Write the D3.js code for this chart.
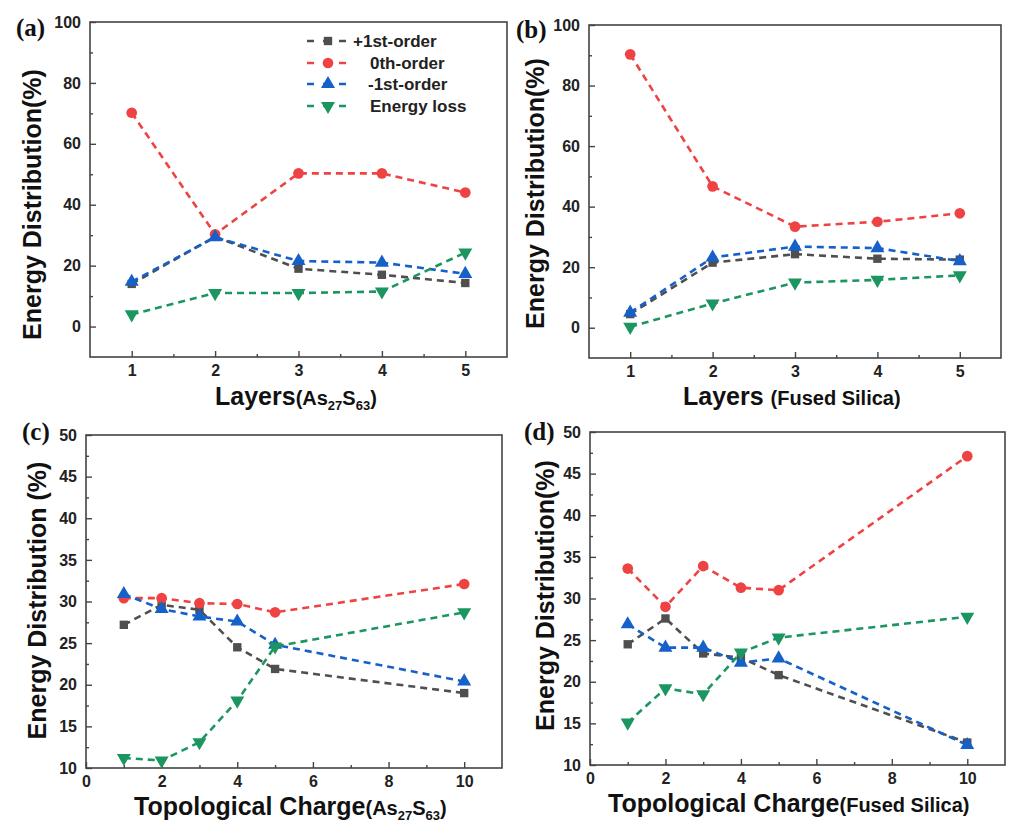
<!DOCTYPE html>
<html>
<head>
<meta charset="utf-8">
<script src="https://cdn.jsdelivr.net/npm/d3@7"></script>
<style>
  body { margin: 0; background: #fff; }
  svg { display: block; }
  .tick-label { font-family: "Liberation Sans", Arial, sans-serif; font-weight: bold; font-size: 16px; fill: #222; }
  .ax-title { font-family: "Liberation Sans", Arial, sans-serif; font-weight: bold; fill: #111; }
  .panel-tag { font-family: "Liberation Serif", "Times New Roman", serif; font-weight: bold; font-size: 25px; fill: #111; }
  .legend-text { font-family: "Liberation Sans", Arial, sans-serif; font-weight: bold; font-size: 17px; fill: #222; }
</style>
</head>
<body>
<svg id="chart" width="1024" height="837"></svg>
<script>
// x categories
const layers = [1, 2, 3, 4, 5];
const charges = [1, 2, 3, 4, 5, 10];

const seriesNames = ["+1st-order", "0th-order", "-1st-order", "Energy loss"];
const seriesColors = ["#4f4f4f", "#ef4343", "#1660c9", "#1b9660"];

// (a) layers, As27S63
const aPlus1 = [14, 29.5, 19, 17, 14.3];
const aZero = [70.2, 30.3, 50.3, 50.3, 44];
const aMinus1 = [14.7, 29.3, 21.5, 21, 17.3];
const aLoss = [4, 11, 11, 11.5, 24.3];

// (b) layers, fused silica
const bPlus1 = [4.5, 21.5, 24.3, 22.8, 22.5];
const bZero = [90.3, 46.7, 33.4, 35, 37.8];
const bMinus1 = [5, 23.2, 26.8, 26.3, 22];
const bLoss = [0.3, 8, 14.9, 15.8, 17.3];

// (c) topological charge, As27S63
const cPlus1 = [27.2, 29.6, 29, 24.5, 21.9, 19];
const cZero = [30.4, 30.4, 29.8, 29.7, 28.7, 32.1];
const cMinus1 = [30.9, 29.1, 28.2, 27.6, 24.8, 20.4];
const cLoss = [11.2, 10.9, 13.1, 18.1, 24.6, 28.7];

// (d) topological charge, fused silica
const dPlus1 = [24.5, 27.6, 23.4, 22.9, 20.8, 12.7];
const dZero = [33.6, 29, 33.9, 31.3, 31, 47.1];
const dMinus1 = [26.9, 24.1, 24.1, 22.3, 22.8, 12.4];
const dLoss = [15.1, 19.2, 18.5, 23.5, 25.3, 27.8];

// axis ticks
const layerTicks = [1, 2, 3, 4, 5];
const layerMinor = [1.5, 2.5, 3.5, 4.5];
const layerYTicks = [0, 20, 40, 60, 80, 100];
const layerYMinor = [10, 30, 50, 70, 90];
const chargeTicks = [0, 2, 4, 6, 8, 10];
const chargeMinor = [1, 3, 5, 7, 9];
const chargeYTicks = [10, 15, 20, 25, 30, 35, 40, 45, 50];
const chargeYMinor = [12.5, 17.5, 22.5, 27.5, 32.5, 37.5, 42.5, 47.5];

const svg = d3.select("#chart");

const symbols = [
  d3.symbol().type(d3.symbolSquare).size(70),
  d3.symbol().type(d3.symbolCircle).size(90),
  d3.symbol().type(d3.symbolTriangle).size(85),
  d3.symbol().type(d3.symbolTriangle).size(85)
];
const symbolRotate = [0, 0, 0, 180];

function drawPanel(cfg) {
  const g = svg.append("g");
  const x = d3.scaleLinear().domain(cfg.xDomain).range([cfg.left, cfg.right]);
  const y = d3.scaleLinear().domain(cfg.yDomain).range([cfg.bottom, cfg.top]);

  // frame
  g.append("rect")
    .attr("x", cfg.left).attr("y", cfg.top)
    .attr("width", cfg.right - cfg.left).attr("height", cfg.bottom - cfg.top)
    .attr("fill", "none").attr("stroke", "#444").attr("stroke-width", 1.6);

  // axes with inward ticks
  const fmt = d3.format("d");
  const xAxis = d3.axisBottom(x).tickValues(cfg.xTicks).tickFormat(fmt).tickSizeInner(-6).tickSizeOuter(0).tickPadding(8);
  const xAxisMinor = d3.axisBottom(x).tickValues(cfg.xMinor).tickSizeInner(-3).tickSizeOuter(0).tickFormat("");
  const yAxis = d3.axisLeft(y).tickValues(cfg.yTicks).tickFormat(fmt).tickSizeInner(-6).tickSizeOuter(0).tickPadding(9);
  const yAxisMinor = d3.axisLeft(y).tickValues(cfg.yMinor).tickSizeInner(-3).tickSizeOuter(0).tickFormat("");

  [[xAxis, "x"], [xAxisMinor, "x"], [yAxis, "y"], [yAxisMinor, "y"]].forEach(([ax, k]) => {
    const a = g.append("g")
      .attr("transform", k === "x" ? `translate(0,${cfg.bottom})` : `translate(${cfg.left},0)`)
      .call(ax);
    a.select(".domain").remove();
    a.selectAll(".tick line").attr("stroke", "#444").attr("stroke-width", 1.4);
    a.selectAll(".tick text").attr("class", "tick-label").attr("font-size", null).attr("font-family", null);
  });

  // series
  cfg.series.forEach((vals, si) => {
    const pts = cfg.xs.map((xv, i) => [xv, vals[i]]);
    g.append("path")
      .datum(pts)
      .attr("d", d3.line().x(d => x(d[0])).y(d => y(d[1])))
      .attr("fill", "none")
      .attr("stroke", seriesColors[si])
      .attr("stroke-width", 2.6)
      .attr("stroke-dasharray", "7,5");
    g.selectAll(null)
      .data(pts)
      .enter()
      .append("path")
      .attr("d", symbols[si])
      .attr("transform", d => `translate(${x(d[0])},${y(d[1])}) rotate(${symbolRotate[si]})`)
      .attr("fill", seriesColors[si]);
  });

  // y title
  g.append("text")
    .attr("class", "ax-title")
    .attr("font-size", 25)
    .attr("text-anchor", "middle")
    .attr("transform", `translate(${cfg.yTitleX},${(cfg.top + cfg.bottom) / 2 + cfg.yTitleDy}) rotate(-90)`)
    .text(cfg.yTitle);

  // x title with small parenthetical
  const xt = g.append("text")
    .attr("class", "ax-title")
    .attr("x", cfg.xTitleX)
    .attr("y", cfg.xTitleY)
    .attr("font-size", 25);
  cfg.xTitle.forEach(part => {
    const ts = xt.append("tspan").text(part.t);
    if (part.size) ts.attr("font-size", part.size);
    if (part.dy) ts.attr("dy", part.dy);
  });

  // panel tag
  g.append("text")
    .attr("class", "panel-tag")
    .attr("x", cfg.tagX).attr("y", cfg.tagY)
    .text(cfg.tag);

  return { x, y, g };
}

const as2763 = [
  { t: "(As", size: 20 },
  { t: "27", size: 13, dy: 5 },
  { t: "S", size: 20, dy: -5 },
  { t: "63", size: 13, dy: 5 },
  { t: ")", size: 20, dy: -5 }
];

drawPanel({
  tag: "(a)", tagX: 16, tagY: 36,
  left: 90, right: 507, top: 22, bottom: 357,
  xDomain: [0.5, 5.5], yDomain: [-10, 100],
  xTicks: layerTicks, xMinor: layerMinor, yTicks: layerYTicks, yMinor: layerYMinor,
  xs: layers, series: [aPlus1, aZero, aMinus1, aLoss],
  yTitle: "Energy Distribution(%)", yTitleX: 41, yTitleDy: 15,
  xTitle: [{ t: "Layers" }].concat(as2763), xTitleX: 215, xTitleY: 405
});

drawPanel({
  tag: "(b)", tagX: 516, tagY: 38,
  left: 589, right: 1001, top: 25, bottom: 358,
  xDomain: [0.5, 5.5], yDomain: [-10, 100],
  xTicks: layerTicks, xMinor: layerMinor, yTicks: layerYTicks, yMinor: layerYMinor,
  xs: layers, series: [bPlus1, bZero, bMinus1, bLoss],
  yTitle: "Energy Distribution(%)", yTitleX: 544, yTitleDy: 2,
  xTitle: [{ t: "Layers " }, { t: "(Fused Silica)", size: 20 }], xTitleX: 683, xTitleY: 405
});

drawPanel({
  tag: "(c)", tagX: 22, tagY: 440,
  left: 86, right: 502, top: 435, bottom: 768,
  xDomain: [0, 11], yDomain: [10, 50],
  xTicks: chargeTicks, xMinor: chargeMinor, yTicks: chargeYTicks, yMinor: chargeYMinor,
  xs: charges, series: [cPlus1, cZero, cMinus1, cLoss],
  yTitle: "Energy Distribution (%)", yTitleX: 46, yTitleDy: -1,
  xTitle: [{ t: "Topological Charge" }].concat(as2763), xTitleX: 134, xTitleY: 815
});

drawPanel({
  tag: "(d)", tagX: 524, tagY: 440,
  left: 590, right: 1005, top: 432, bottom: 765,
  xDomain: [0, 11], yDomain: [10, 50],
  xTicks: chargeTicks, xMinor: chargeMinor, yTicks: chargeYTicks, yMinor: chargeYMinor,
  xs: charges, series: [dPlus1, dZero, dMinus1, dLoss],
  yTitle: "Energy Distribution(%)", yTitleX: 554, yTitleDy: -3,
  xTitle: [{ t: "Topological Charge" }, { t: "(Fused Silica)", size: 20 }], xTitleX: 608, xTitleY: 812
});

// legend in panel (a)
const legendRows = [41, 63, 84, 106];
const legendTextX = [353, 370, 368, 370];
const lg = svg.append("g");
seriesNames.forEach((name, i) => {
  const yy = legendRows[i];
  lg.append("line")
    .attr("x1", 307).attr("x2", 349).attr("y1", yy).attr("y2", yy)
    .attr("stroke", seriesColors[i]).attr("stroke-width", 2.6)
    .attr("stroke-dasharray", "7,9");
  lg.append("path")
    .attr("d", symbols[i])
    .attr("transform", `translate(328,${yy}) rotate(${symbolRotate[i]})`)
    .attr("fill", seriesColors[i]);
  lg.append("text")
    .attr("class", "legend-text")
    .attr("x", legendTextX[i]).attr("y", yy + 6)
    .text(name);
});
</script>
</body>
</html>
